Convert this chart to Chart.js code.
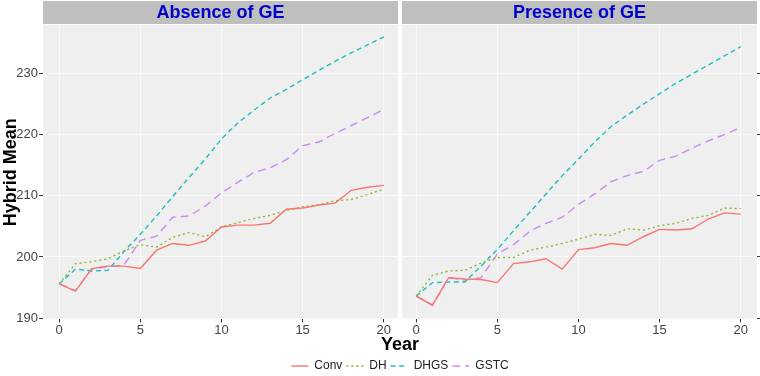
<!DOCTYPE html>
<html lang="en">

<head>
    <meta charset="UTF-8">
    <title>Hybrid Mean by Year</title>
    <script src="https://cdn.jsdelivr.net/npm/chart.js@4.4.1/dist/chart.umd.min.js"></script>
    <style>
        body { margin: 0; background: #fff; }
        #wrap { width: 760px; height: 376px; }
    </style>
</head>

<body>
    <div id="wrap"><canvas id="chart" width="760" height="376"></canvas></div>
    <script>
        const years = [0, 1, 2, 3, 4, 5, 6, 7, 8, 9, 10, 11, 12, 13, 14, 15, 16, 17, 18, 19, 20];
        const panels = ['Absence of GE', 'Presence of GE'];
        const seriesNames = ['Conv', 'DH', 'DHGS', 'GSTC'];
        const xTicks = [0, 5, 10, 15, 20];
        const yTicks = [190, 200, 210, 220, 230];

        // absence of GE
        const convAbs = [195.6, 194.4, 198.1, 198.5, 198.5, 198.1, 201.1, 202.2, 201.9, 202.6, 204.9, 205.2, 205.2, 205.5, 207.8, 208.0, 208.5, 208.8, 210.9, 211.4, 211.7];
        const dhAbs = [195.6, 198.9, 199.2, 199.7, 201.0, 202.0, 201.6, 203.2, 204.0, 203.3, 204.9, 205.6, 206.3, 206.8, 207.6, 208.2, 208.5, 209.2, 209.4, 210.2, 211.1];
        const dhgsAbs = [195.6, 198.0, 197.7, 197.8, 200.9, 203.7, 206.7, 209.9, 213.0, 216.0, 219.3, 221.9, 224.0, 226.0, 227.4, 229.0, 230.5, 232.0, 233.4, 234.7, 236.0];
        const gstcAbs = [195.6, 194.5, 198.0, 198.4, 198.7, 202.7, 203.4, 206.5, 206.7, 208.3, 210.5, 212.2, 213.8, 214.6, 215.9, 218.2, 218.8, 220.2, 221.5, 222.8, 224.1];

        // presence of GE
        const convPre = [193.6, 192.1, 196.6, 196.4, 196.3, 195.8, 198.9, 199.2, 199.7, 198.0, 201.2, 201.5, 202.2, 201.9, 203.3, 204.5, 204.4, 204.6, 206.2, 207.2, 207.0];
        const dhPre = [193.6, 197.0, 197.7, 197.8, 199.0, 199.9, 199.9, 201.1, 201.6, 202.2, 202.9, 203.7, 203.5, 204.6, 204.4, 205.1, 205.5, 206.3, 206.8, 208.0, 207.9];
        const dhgsPre = [193.6, 195.8, 195.9, 195.9, 198.5, 201.2, 204.3, 207.3, 210.3, 213.3, 216.0, 218.8, 221.3, 223.2, 225.0, 226.7, 228.4, 229.9, 231.4, 232.9, 234.4];
        const gstcPre = [193.6, 192.1, 196.6, 196.2, 196.6, 200.5, 202.0, 204.2, 205.5, 206.5, 208.6, 210.3, 212.3, 213.3, 214.0, 215.8, 216.5, 217.8, 219.0, 220.0, 221.2];

        const colors = ['#F8766D', '#8DB62A', '#1BBFC4', '#C98AF8'];
        const dashes = [[], [2, 3], [5, 3.5], [8, 5]];
        const FONT = '"Liberation Sans", Arial, sans-serif';

        function makeSet(i, values, axis) {
            return {
                label: seriesNames[i],
                data: values.map((v, k) => ({ x: years[k], y: v })),
                xAxisID: axis,
                borderColor: colors[i],
                backgroundColor: colors[i],
                borderDash: dashes[i],
                borderWidth: 1.4,
                pointRadius: 0,
                fill: false,
                tension: 0
            };
        }

        // grey panel backgrounds and facet strips
        const panelBg = {
            id: 'panelBg',
            beforeDraw(chart) {
                const { ctx, chartArea, scales } = chart;
                ctx.save();
                ['x', 'x2'].forEach((id, i) => {
                    const ax = scales[id];
                    const l = i === 0 ? ax.left : ax.left + 2;
                    const r = i === 0 ? ax.right - 2 : ax.right;
                    ctx.fillStyle = '#efefef';
                    ctx.fillRect(l, chartArea.top, r - l, chartArea.bottom - chartArea.top);
                    ctx.fillStyle = '#bfbfbf';
                    ctx.fillRect(l, 1, r - l, chartArea.top - 2);
                    ctx.fillStyle = '#0000cc';
                    ctx.font = 'bold 18px ' + FONT;
                    ctx.textAlign = 'center';
                    ctx.textBaseline = 'middle';
                    ctx.fillText(panels[i], (l + r) / 2, 13);
                });
                ctx.restore();
            }
        };

        function xAxis() {
            return {
                type: 'linear',
                position: 'bottom',
                stack: 'panels',
                stackWeight: 1,
                min: -1,
                max: 21,
                afterBuildTicks: ax => { ax.ticks = xTicks.map(v => ({ value: v })); },
                afterFit: ax => { ax.height = 15; },
                border: { display: false },
                grid: { color: '#fafafa', tickColor: '#333', tickLength: 3 },
                ticks: { autoSkip: false, maxRotation: 0, padding: 0, color: '#444', font: { family: FONT, size: 13 } }
            };
        }

        const datasets = [
            makeSet(0, convAbs, 'x'), makeSet(1, dhAbs, 'x'), makeSet(2, dhgsAbs, 'x'), makeSet(3, gstcAbs, 'x'),
            makeSet(0, convPre, 'x2'), makeSet(1, dhPre, 'x2'), makeSet(2, dhgsPre, 'x2'), makeSet(3, gstcPre, 'x2')
        ];

        new Chart(document.getElementById('chart'), {
            type: 'line',
            data: { datasets: datasets },
            plugins: [panelBg],
            options: {
                responsive: false,
                animation: false,
                devicePixelRatio: 1,
                layout: { padding: { top: 25, left: 0, right: 0, bottom: -6 } },
                scales: {
                    x: xAxis(),
                    x2: xAxis(),
                    y: {
                        type: 'linear',
                        position: 'left',
                        min: 189.78,
                        max: 237.94,
                        afterBuildTicks: ax => { ax.ticks = yTicks.map(v => ({ value: v })); },
                        afterFit: ax => { ax.width = 43; },
                        border: { display: false },
                        grid: { color: '#fafafa', tickColor: '#333', tickLength: 4 },
                        ticks: { padding: 1, color: '#444', font: { family: FONT, size: 13 } },
                        title: { display: true, text: 'Hybrid Mean', color: '#000', padding: 0, font: { family: FONT, size: 18, weight: 'bold' } }
                    },
                    y2: {
                        type: 'linear',
                        position: 'right',
                        min: 189.78,
                        max: 237.94,
                        afterBuildTicks: ax => { ax.ticks = yTicks.map(v => ({ value: v })); },
                        afterFit: ax => { ax.width = 3; },
                        border: { display: false },
                        grid: { drawOnChartArea: false, tickColor: '#333', tickLength: 3 },
                        ticks: { display: false }
                    }
                },
                plugins: {
                    title: {
                        display: true,
                        text: 'Year',
                        position: 'bottom',
                        fullSize: false,
                        weight: 500,
                        color: '#000',
                        padding: 0,
                        font: { family: FONT, size: 18, weight: 'bold' }
                    },
                    legend: {
                        position: 'bottom',
                        fullSize: false,
                        labels: {
                            // only one entry per series, drawn with the series' own dash
                            generateLabels: chart => Chart.defaults.plugins.legend.labels.generateLabels(chart)
                                .filter(item => item.datasetIndex < 4)
                                .map(item => Object.assign(item, {
                                    lineDash: dashes[item.datasetIndex],
                                    lineWidth: 1.4,
                                    strokeStyle: colors[item.datasetIndex]
                                })),
                            usePointStyle: true,
                            pointStyle: 'line',
                            pointStyleWidth: 17,
                            padding: 4,
                            color: '#222',
                            font: { family: FONT, size: 12 }
                        }
                    },
                    tooltip: { enabled: false }
                }
            }
        });
    </script>
</body>

</html>
